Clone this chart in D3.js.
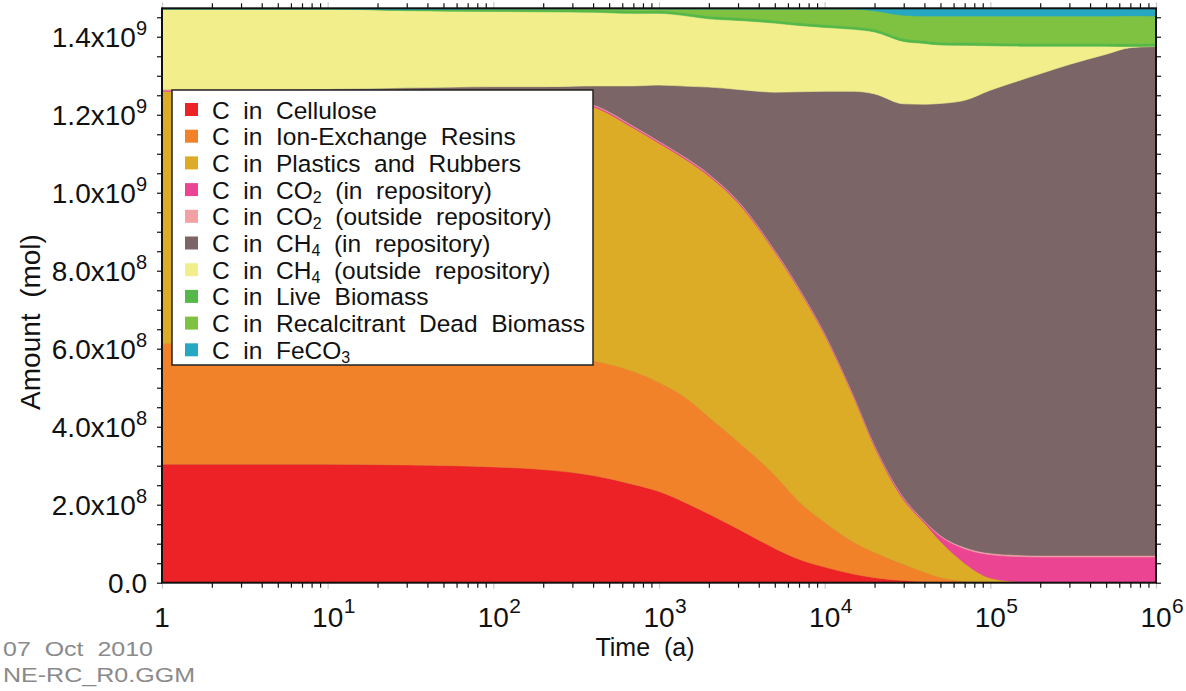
<!DOCTYPE html>
<html>
<head>
<meta charset="utf-8">
<script src="https://cdn.jsdelivr.net/npm/d3@7/dist/d3.min.js"></script>
<style>
  body { margin: 0; background: #ffffff; }
  text { font-family: "Liberation Sans", Arial, Helvetica, sans-serif; }
</style>
</head>
<body>
<svg id="chart" width="1186" height="691"></svg>
<script>
// Simulation times (years)
const times = [1, 3, 10, 30, 100, 200, 400, 700, 1000, 1500, 2000, 3000, 5000, 7000,
  1e4, 1.5e4, 2e4, 3e4, 4e4, 5e4, 7e4, 1e5, 1.5e5, 2e5, 3e5, 5e5, 7e5, 1e6];

// Carbon inventories, in units of 1e8 mol
const cellulose    = [3.04,3.04,3.04,3.02,2.97,2.90,2.75,2.52,2.34,2.02,1.76,1.38,0.88,0.60,0.40,0.22,0.13,0.055,0.025,0.012,0.004,0,0,0,0,0,0,0];
const ionExchange  = [3.10,3.10,3.09,3.08,3.03,2.98,2.95,2.90,2.80,2.68,2.49,2.24,1.88,1.48,1.15,0.82,0.65,0.415,0.245,0.128,0.036,0.005,0,0,0,0,0,0];
const plastics     = [6.46,6.46,6.47,6.48,6.50,6.52,6.50,6.24,6.13,6.11,6.18,6.12,5.72,5.43,4.80,3.70,2.70,1.65,1.26,0.92,0.46,0.115,0.02,0,0,0,0,0];
const co2In        = [0.03,0.03,0.03,0.03,0.03,0.03,0.035,0.035,0.035,0.035,0.035,0.035,0.035,0.035,0.035,0.035,0.04,0.045,0.04,0.13,0.37,0.60,0.65,0.66,0.66,0.66,0.66,0.66];
const co2Out       = [0.02,0.02,0.02,0.02,0.02,0.02,0.025,0.025,0.025,0.025,0.025,0.025,0.025,0.025,0.025,0.025,0.025,0.025,0.02,0.03,0.04,0.04,0.04,0.04,0.04,0.04,0.04,0.04];
const ch4In        = [0,0,0.01,0.06,0.17,0.27,0.48,1.02,1.43,1.86,2.22,2.85,4.04,5.02,6.19,7.80,8.99,10.09,10.68,11.07,11.46,11.87,12.17,12.35,12.59,12.85,13.02,13.05];
const ch4Out       = [2.06,2.06,2.05,1.98,1.93,1.92,1.89,1.86,1.84,1.80,1.75,1.77,1.77,1.70,1.64,1.59,1.59,1.60,1.56,1.50,1.41,1.14,0.88,0.71,0.47,0.21,0.03,0.01];
const liveBiomass  = [0,0,0,0.02,0.04,0.05,0.06,0.06,0.07,0.07,0.07,0.07,0.07,0.07,0.07,0.07,0.07,0.07,0.07,0.07,0.07,0.07,0.07,0.07,0.07,0.07,0.07,0.07];
const recalcitrant = [0,0,0,0,0.02,0.02,0.03,0.05,0.04,0.11,0.18,0.22,0.29,0.35,0.40,0.45,0.47,0.60,0.63,0.67,0.68,0.69,0.70,0.70,0.70,0.70,0.72,0.70];
const feco3        = [0.01,0.01,0.01,0.01,0.01,0.01,0.01,0.01,0.01,0.01,0.01,0.01,0.01,0.01,0.01,0.01,0.06,0.17,0.19,0.19,0.19,0.19,0.19,0.19,0.19,0.19,0.19,0.19];

// Series: key, legend label pieces ([text, subscript, text]), colour
const seriesKeys   = ["cellulose","ionExchange","plastics","co2In","co2Out","ch4In","ch4Out","liveBiomass","recalcitrant","feco3"];
const seriesValues = [cellulose, ionExchange, plastics, co2In, co2Out, ch4In, ch4Out, liveBiomass, recalcitrant, feco3];
const seriesLabels = [
  ["C  in  Cellulose"],
  ["C  in  Ion-Exchange  Resins"],
  ["C  in  Plastics  and  Rubbers"],
  ["C  in  CO", "2", "  (in  repository)"],
  ["C  in  CO", "2", "  (outside  repository)"],
  ["C  in  CH", "4", "  (in  repository)"],
  ["C  in  CH", "4", "  (outside  repository)"],
  ["C  in  Live  Biomass"],
  ["C  in  Recalcitrant  Dead  Biomass"],
  ["C  in  FeCO", "3", ""]
];
const seriesColors = ["#ec2227","#f2822a","#dcac27","#ea4493","#f3a0a2","#7c6566","#f2ee8b","#55b848","#7fc241","#27a8c2"];

// Axis ticks
const yMajorTicks = [0, 2, 4, 6, 8, 10, 12, 14];
const yTickMantissa = ["0.0", "2.0", "4.0", "6.0", "8.0", "1.0", "1.2", "1.4"];
const yTickExponent = ["", "8", "8", "8", "8", "9", "9", "9"];
const xMajorTicks = [1, 10, 100, 1000, 1e4, 1e5, 1e6];
const xTickExponent = ["", "1", "2", "3", "4", "5", "6"];

const svg = d3.select("#chart");
const plot = { left: 162, right: 1156, top: 8.3, bottom: 582.7 };

const x = d3.scaleLog().domain([1, 1e6]).range([plot.left, plot.right]);
const y = d3.scaleLinear().domain([0, 14.73]).range([plot.bottom, plot.top]);

// Table for the stack
const table = times.map((t, i) => {
  const row = { t };
  seriesKeys.forEach((k, j) => { row[k] = seriesValues[j][i]; });
  return row;
});
const stacked = d3.stack().keys(seriesKeys)(table);

const area = d3.area()
  .x(d => x(d.data.t))
  .y0(d => y(d[0]))
  .y1(d => y(d[1]))
  .curve(d3.curveMonotoneX);

svg.append("defs").append("clipPath").attr("id", "plotClip")
  .append("rect")
  .attr("x", plot.left).attr("y", plot.top)
  .attr("width", plot.right - plot.left).attr("height", plot.bottom - plot.top);

const layers = svg.append("g").attr("clip-path", "url(#plotClip)");
layers.append("rect")
  .attr("x", plot.left).attr("y", plot.top)
  .attr("width", plot.right - plot.left).attr("height", plot.bottom - plot.top)
  .attr("fill", seriesColors[9]);
layers.selectAll("path.layer")
  .data(stacked)
  .join("path")
  .attr("class", "layer")
  .attr("d", area)
  .attr("fill", (d, i) => seriesColors[i])
  .attr("stroke", (d, i) => seriesColors[i])
  .attr("stroke-width", 0.6);

// Minor tick positions for the log axis
const xMinor = [];
for (let e = 0; e < 6; e++) for (let m = 2; m <= 9; m++) xMinor.push(m * Math.pow(10, e));
const yMinor = d3.range(0, 14.73, 0.5);

// Bottom and top axes
svg.append("g").attr("transform", `translate(0,${plot.bottom})`)
  .call(d3.axisBottom(x).tickValues(xMinor).tickSize(5).tickFormat(""))
  .call(g => g.select(".domain").remove())
  .call(g => g.selectAll("line").attr("stroke", "#111").attr("stroke-width", 1.2));
svg.append("g").attr("transform", `translate(0,${plot.bottom})`)
  .call(d3.axisBottom(x).tickValues(xMajorTicks).tickSize(6).tickFormat(""))
  .call(g => g.select(".domain").remove())
  .call(g => g.selectAll("line").attr("stroke", "#c8c8c8").attr("stroke-width", 1.2));
svg.append("g").attr("transform", `translate(0,${plot.top})`)
  .call(d3.axisTop(x).tickValues(xMinor).tickSize(5).tickFormat(""))
  .call(g => g.select(".domain").remove())
  .call(g => g.selectAll("line").attr("stroke", "#111").attr("stroke-width", 1.2));
svg.append("g").attr("transform", `translate(0,${plot.top})`)
  .call(d3.axisTop(x).tickValues(xMajorTicks).tickSize(6).tickFormat(""))
  .call(g => g.select(".domain").remove())
  .call(g => g.selectAll("line").attr("stroke", "#c8c8c8").attr("stroke-width", 1.2));

// Left and right axes
svg.append("g").attr("transform", `translate(${plot.left},0)`)
  .call(d3.axisLeft(y).tickValues(yMinor).tickSize(5).tickFormat(""))
  .call(g => g.select(".domain").remove())
  .call(g => g.selectAll("line").attr("stroke", "#111").attr("stroke-width", 1.2));
svg.append("g").attr("transform", `translate(${plot.right},0)`)
  .call(d3.axisRight(y).tickValues(yMinor).tickSize(5).tickFormat(""))
  .call(g => g.select(".domain").remove())
  .call(g => g.selectAll("line").attr("stroke", "#111").attr("stroke-width", 1.2));

// Frame
svg.append("rect")
  .attr("x", plot.left).attr("y", plot.top)
  .attr("width", plot.right - plot.left).attr("height", plot.bottom - plot.top)
  .attr("fill", "none").attr("stroke", "#111").attr("stroke-width", 2);

// Y tick labels
const yLab = svg.append("g").attr("fill", "#111");
yMajorTicks.forEach((v, i) => {
  const t = yLab.append("text")
    .attr("x", 147).attr("y", y(v) + 10)
    .attr("text-anchor", "end")
    .attr("font-size", 28);
  t.append("tspan").text(yTickMantissa[i] + (yTickExponent[i] ? "x10" : ""));
  if (yTickExponent[i]) {
    t.append("tspan").attr("dy", -12).attr("font-size", 20).text(yTickExponent[i]);
  }
});

// X tick labels
const xLab = svg.append("g").attr("fill", "#111");
xMajorTicks.forEach((v, i) => {
  const g = xLab.append("g").attr("transform", `translate(${x(v)},627)`);
  if (!xTickExponent[i]) {
    g.append("text").attr("text-anchor", "middle").attr("font-size", 28).text("1");
  } else {
    g.append("text").attr("text-anchor", "middle").attr("font-size", 28).text("10");
    g.append("text").attr("x", 16).attr("y", -14).attr("font-size", 21).text(xTickExponent[i]);
  }
});

// Axis titles
svg.append("text")
  .attr("x", 645).attr("y", 656)
  .attr("text-anchor", "middle").attr("font-size", 25).attr("fill", "#111")
  .style("white-space", "pre")
  .text("Time  (a)");
svg.append("text")
  .attr("transform", "translate(40,322) rotate(-90)")
  .attr("text-anchor", "middle").attr("font-size", 28).attr("fill", "#111")
  .style("white-space", "pre")
  .text("Amount  (mol)");

// Footer (file stamp)
svg.append("text").attr("x", 3).attr("y", 656).attr("font-size", 21).attr("fill", "#8a8a8a")
  .attr("textLength", 150).attr("lengthAdjust", "spacingAndGlyphs")
  .style("white-space", "pre").text("07  Oct  2010");
svg.append("text").attr("x", 3).attr("y", 682).attr("font-size", 21).attr("fill", "#8a8a8a")
  .attr("textLength", 192).attr("lengthAdjust", "spacingAndGlyphs")
  .text("NE-RC_R0.GGM");

// Legend
const legend = svg.append("g");
legend.append("rect")
  .attr("x", 172).attr("y", 90).attr("width", 421).attr("height", 275)
  .attr("fill", "#ffffff").attr("stroke", "#222").attr("stroke-width", 1.5);
seriesLabels.forEach((parts, i) => {
  const cy = 110 + i * 26.7;
  legend.append("rect")
    .attr("x", 185).attr("y", cy - 7).attr("width", 13).attr("height", 13)
    .attr("fill", seriesColors[i]);
  const t = legend.append("text")
    .attr("x", 212).attr("y", cy + 8.5)
    .attr("font-size", 24.5).attr("fill", "#111")
    .style("white-space", "pre");
  t.append("tspan").text(parts[0]);
  if (parts.length > 1) {
    t.append("tspan").attr("dy", 4).attr("font-size", 16).text(parts[1]);
    t.append("tspan").attr("dy", -4).attr("font-size", 24.5).text(parts[2]);
  }
});
</script>
</body>
</html>
